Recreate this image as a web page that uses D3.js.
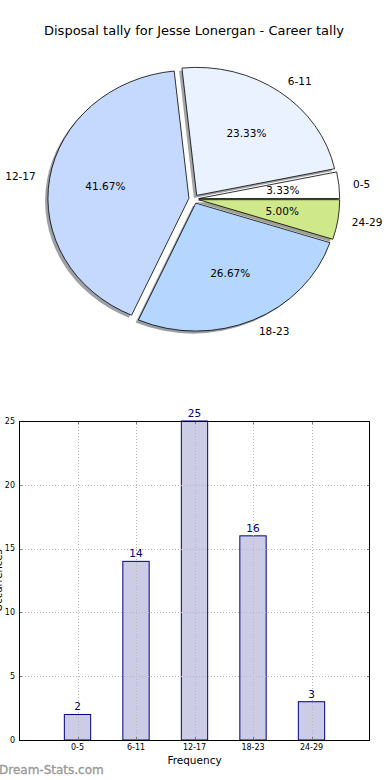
<!DOCTYPE html>
<html>
<head>
<meta charset="utf-8">
<script src="https://cdn.jsdelivr.net/npm/d3@7"></script>
<style>
html,body{margin:0;padding:0;background:#fff;}
svg{display:block;font-family:"DejaVu Sans",sans-serif;}
</style>
</head>
<body>
<svg id="chart" width="390" height="780"></svg>
<script>
const titleText = "Disposal tally for Jesse Lonergan - Career tally";
const categories = ["0-5", "6-11", "12-17", "18-23", "24-29"];
const counts = [2, 14, 25, 16, 3];
const pieColors = ["#ffffff", "#eaf2ff", "#c5d9ff", "#b4d6ff", "#cfe88a"];
const yTicks = [0, 5, 10, 15, 20, 25];
const xLabel = "Frequency";
const yLabel = "Occurrences";
const watermark = "Dream-Stats.com";

const svg = d3.select("#chart");
const total = d3.sum(counts);

// Title
svg.append("text").attr("x", 194).attr("y", 34.5).attr("text-anchor", "middle")
  .attr("font-size", 13).attr("fill", "#000").text(titleText);

// ---------- Pie ----------
const cx = 193.8, cy = 199, rx = 141, ry = 128, explode = 0.035;
const sy = ry / rx;
const pie = d3.pie().sort(null).value(d => d)
  .startAngle(Math.PI / 2).endAngle(Math.PI / 2 - 2 * Math.PI);
const arcs = pie(counts);
const arc = d3.arc().innerRadius(0).outerRadius(rx);

const pieG = svg.append("g");
function wedgeCenter(a) {
  const m = (a.startAngle + a.endAngle) / 2;
  return [cx + explode * rx * Math.sin(m), cy - explode * ry * Math.cos(m), m];
}
// shadows
arcs.forEach((a, i) => {
  const [wx, wy] = wedgeCenter(a);
  const c = d3.rgb(pieColors[i]);
  const sc = d3.rgb(c.r * 0.3, c.g * 0.3, c.b * 0.3);
  pieG.append("path")
    .attr("d", arc(a))
    .attr("transform", `translate(${wx - 0.02 * rx},${wy + 0.02 * ry}) scale(1,${sy})`)
    .attr("fill", sc.toString()).attr("fill-opacity", 0.5).attr("stroke", "none");
});
// wedges
arcs.forEach((a, i) => {
  const [wx, wy] = wedgeCenter(a);
  pieG.append("path")
    .attr("d", arc(a))
    .attr("transform", `translate(${wx},${wy}) scale(1,${sy})`)
    .attr("fill", pieColors[i]).attr("stroke", "#000").attr("stroke-width", 0.8)
    .attr("vector-effect", "non-scaling-stroke").attr("stroke-linejoin", "round");
});
// labels
arcs.forEach((a, i) => {
  const [wx, wy, m] = wedgeCenter(a);
  const dx = Math.sin(m), dy = -Math.cos(m);
  pieG.append("text")
    .attr("x", wx + 1.1 * rx * dx).attr("y", wy + 1.1 * ry * dy)
    .attr("dy", "0.36em").attr("font-size", 10.5)
    .attr("text-anchor", dx > 0 ? "start" : "end").text(categories[i]);
  pieG.append("text")
    .attr("x", wx + 0.6 * rx * dx).attr("y", wy + 0.6 * ry * dy)
    .attr("dy", "0.36em").attr("font-size", 10.5).attr("text-anchor", "middle")
    .text((100 * counts[i] / total).toFixed(2) + "%");
});

// ---------- Bar chart ----------
const plotLeft = 19, plotRight = 370, plotTop = 421, plotBottom = 740;
const xs = d3.scaleLinear().domain([-1, 5]).range([plotLeft, plotRight]);
const ys = d3.scaleLinear().domain([0, 25]).range([plotBottom, plotTop]);
const barW = 0.45;
const bg = svg.append("g");

// bars
bg.selectAll("rect.bar").data(counts).join("rect").attr("class", "bar")
  .attr("x", (d, i) => xs(i - barW / 2)).attr("width", xs(barW) - xs(0))
  .attr("y", d => ys(d)).attr("height", d => ys(0) - ys(d))
  .attr("fill", "#ccccE6").attr("stroke", "#000080").attr("stroke-width", 1);

// grid
const grid = bg.append("g").attr("stroke", "#b8b8b8").attr("stroke-width", 1)
  .attr("stroke-dasharray", "1,2");
yTicks.forEach(t => {
  grid.append("line").attr("x1", plotLeft).attr("x2", plotRight)
    .attr("y1", Math.round(ys(t)) + 0.5).attr("y2", Math.round(ys(t)) + 0.5);
});
categories.forEach((c, i) => {
  grid.append("line").attr("y1", plotTop).attr("y2", plotBottom)
    .attr("x1", Math.round(xs(i)) + 0.5).attr("x2", Math.round(xs(i)) + 0.5);
});

// ticks (inside, all four sides)
const tickG = bg.append("g").attr("stroke", "#777").attr("stroke-width", 1);
yTicks.forEach(t => {
  const yy = Math.round(ys(t)) + 0.5;
  tickG.append("line").attr("x1", plotLeft).attr("x2", plotLeft + 3).attr("y1", yy).attr("y2", yy);
  tickG.append("line").attr("x1", plotRight - 3).attr("x2", plotRight).attr("y1", yy).attr("y2", yy);
});
categories.forEach((c, i) => {
  const xx = Math.round(xs(i)) + 0.5;
  tickG.append("line").attr("x1", xx).attr("x2", xx).attr("y1", plotTop).attr("y2", plotTop + 3);
  tickG.append("line").attr("x1", xx).attr("x2", xx).attr("y1", plotBottom - 3).attr("y2", plotBottom);
});

// frame
bg.append("rect").attr("x", plotLeft + 0.5).attr("y", plotTop + 0.5)
  .attr("width", plotRight - plotLeft - 1).attr("height", plotBottom - plotTop)
  .attr("fill", "none").attr("stroke", "#000").attr("stroke-width", 1);

// value labels
bg.selectAll("text.val").data(counts).join("text").attr("class", "val")
  .attr("x", (d, i) => xs(i)).attr("y", d => ys(d) - 4)
  .attr("text-anchor", "middle").attr("font-size", 10.5).attr("fill", "#000080")
  .text(d => d);

// y tick labels
yTicks.forEach(t => {
  bg.append("text").attr("x", 15).attr("y", ys(t)).attr("dy", "0.35em")
    .attr("text-anchor", "end").attr("font-size", 8).attr("fill", "#000").text(t);
});
// x tick labels
categories.forEach((c, i) => {
  bg.append("text").attr("x", xs(i)).attr("y", 750).attr("text-anchor", "middle")
    .attr("font-size", 8).attr("fill", "#000").text(c);
});
// axis labels
bg.append("text").attr("x", (plotLeft + plotRight) / 2).attr("y", 764).attr("text-anchor", "middle")
  .attr("font-size", 10.5).text(xLabel);
bg.append("text").attr("transform", `translate(2,${(plotTop + plotBottom) / 2}) rotate(-90)`)
  .attr("text-anchor", "middle").attr("font-size", 10).text(yLabel);

// watermark
svg.append("text").attr("x", -1).attr("y", 774).attr("font-size", 12)
  .attr("fill", "#9a9a9a").attr("stroke", "#9a9a9a").attr("stroke-width", 0.35)
  .text(watermark);
</script>
</body>
</html>
